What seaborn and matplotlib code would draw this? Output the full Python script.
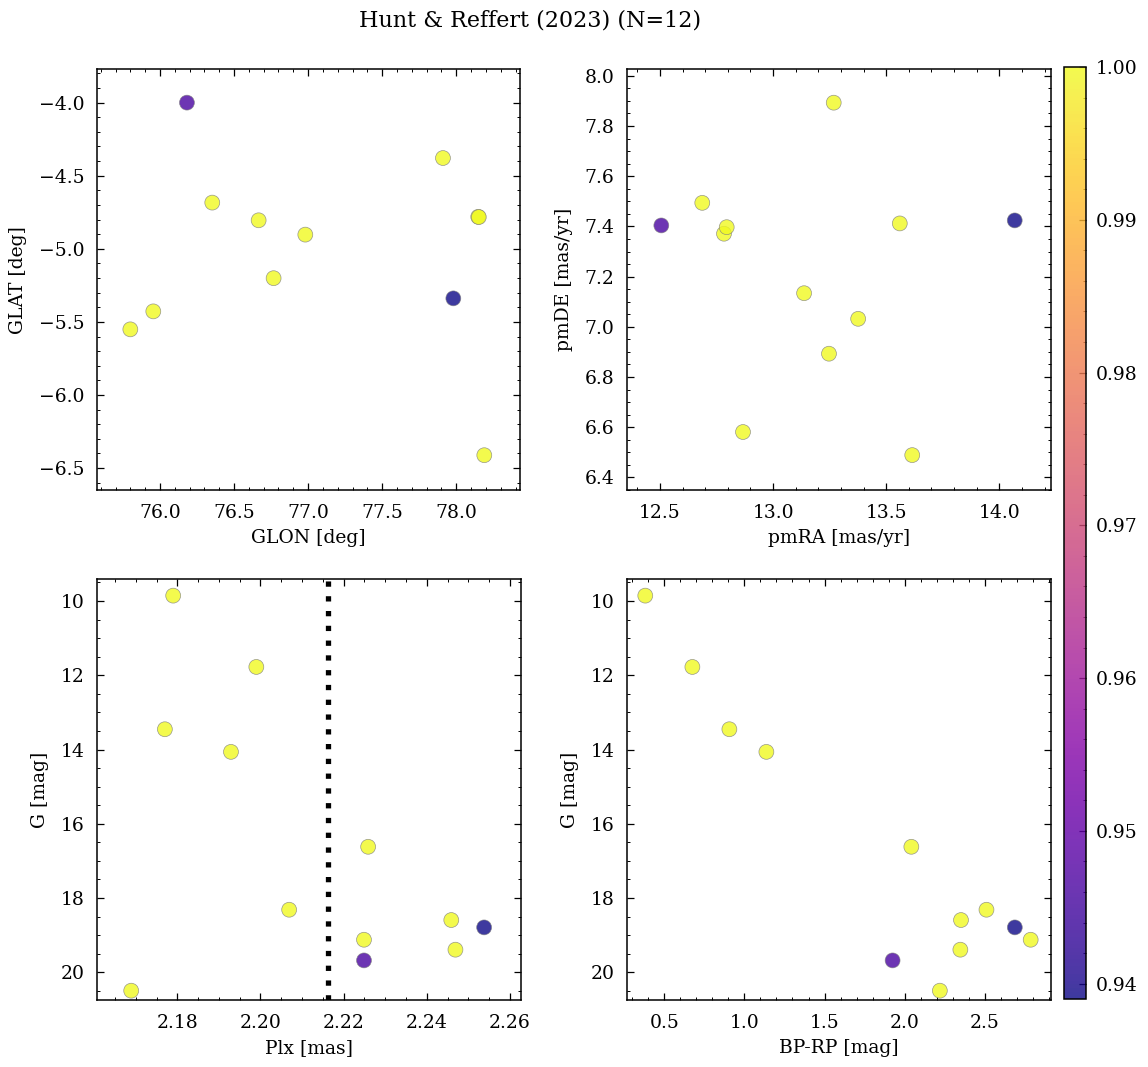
import numpy as np
import pandas as pd
import matplotlib
matplotlib.use("Agg")
import matplotlib.pyplot as plt
import seaborn as sns
from matplotlib.colors import Normalize
from matplotlib.cm import ScalarMappable
from matplotlib.ticker import AutoMinorLocator, MultipleLocator

# ---- data ----
glon = [76.182, 77.910, 76.353, 76.666, 76.981, 78.148, 78.152, 76.767, 77.980, 75.955, 75.800, 78.189]
glat = [-4.000, -4.379, -4.684, -4.805, -4.903, -4.781, -4.783, -5.201, -5.339, -5.428, -5.551, -6.412]
prob_pos = [0.9463, 1.0, 1.0, 1.0, 1.0, 1.0, 1.0, 1.0, 0.939, 1.0, 1.0, 1.0]

pmra = [12.506, 12.687, 12.783, 12.795, 13.268, 13.137, 13.376, 13.247, 12.867, 13.560, 13.615, 14.068]
pmde = [7.404, 7.494, 7.371, 7.397, 7.893, 7.134, 7.032, 6.893, 6.581, 7.412, 6.489, 7.424]
prob_pm = [0.9463, 1.0, 1.0, 1.0, 1.0, 1.0, 1.0, 1.0, 1.0, 1.0, 1.0, 0.939]

plx = [2.2249, 2.1790, 2.1990, 2.1770, 2.1929, 2.2069, 2.1689, 2.2259, 2.2249, 2.2459, 2.2469, 2.2538]
gmag = [19.679, 9.856, 11.776, 13.454, 14.063, 18.314, 20.494, 16.619, 19.122, 18.592, 19.390, 18.790]
bprp = [1.925, 0.381, 0.675, 0.906, 1.137, 2.511, 2.220, 2.042, 2.787, 2.352, 2.348, 2.688]
prob_ph = [0.9463, 1.0, 1.0, 1.0, 1.0, 1.0, 1.0, 1.0, 1.0, 1.0, 1.0, 0.939]

plx_ref = 2.2163
cbar_ticks = [0.94, 0.95, 0.96, 0.97, 0.98, 0.99, 1.00]
title = "Hunt & Reffert (2023) (N=12)"

df_pos = pd.DataFrame({"GLON": glon, "GLAT": glat, "p": prob_pos})
df_pm = pd.DataFrame({"pmRA": pmra, "pmDE": pmde, "p": prob_pm})
df_ph = pd.DataFrame({"Plx": plx, "G": gmag, "BPRP": bprp, "p": prob_ph})

vmin, vmax = 0.939, 1.0
cmap = "plasma"
FS = 13.5

sns.set_theme(style="white")
plt.rcParams["font.family"] = ["DejaVu Serif"]
plt.rcParams["mathtext.fontset"] = "dejavuserif"
plt.rcParams.update({
    "text.color": "black", "axes.labelcolor": "black",
    "axes.unicode_minus": True,
    "xtick.direction": "in", "ytick.direction": "in",
    "xtick.bottom": True, "ytick.left": True,
    "xtick.top": True, "ytick.right": True,
    "xtick.major.size": 5, "ytick.major.size": 5,
    "xtick.minor.size": 2.4, "ytick.minor.size": 2.4,
    "xtick.major.width": 0.9, "ytick.major.width": 0.9,
    "xtick.minor.width": 0.7, "ytick.minor.width": 0.7,
    "xtick.major.pad": 10, "ytick.major.pad": 9,
    "xtick.minor.visible": True, "ytick.minor.visible": True,
    "axes.linewidth": 1.1, "axes.edgecolor": "black",
    "xtick.color": "black", "ytick.color": "black",
    "xtick.labelsize": FS, "ytick.labelsize": FS,
    "axes.labelsize": FS,
})

W, H = 1148, 1067
fig = plt.figure(figsize=(W / 100, H / 100), dpi=100)

def px_axes(l, t, r, b):
    return fig.add_axes([l / W, 1 - b / H, (r - l) / W, (b - t) / H])

ax1 = px_axes(96.7, 69.3, 520.0, 490.0)
ax2 = px_axes(626.7, 69.3, 1050.7, 490.0)
ax3 = px_axes(96.7, 579.3, 520.7, 1000.0)
ax4 = px_axes(626.7, 579.3, 1050.7, 1000.0)
cax = px_axes(1064.3, 67.0, 1086.0, 999.0)

kw = dict(hue="p", palette=cmap, hue_norm=(vmin, vmax), legend=False,
          s=115, alpha=0.8, edgecolor="gray", linewidth=0.5)

sns.scatterplot(data=df_pos, x="GLON", y="GLAT", ax=ax1, **kw)
ax1.set_xlim(75.573, 78.43)
ax1.set_ylim(-6.65, -3.772)
ax1.set_xlabel("GLON [deg]")
ax1.set_ylabel("GLAT [deg]")

sns.scatterplot(data=df_pm, x="pmRA", y="pmDE", ax=ax2, **kw)
ax2.set_xlim(12.353, 14.227)
ax2.set_ylim(6.35, 8.026)
ax2.xaxis.set_major_locator(MultipleLocator(0.5))
ax2.set_xlabel("pmRA [mas/yr]")
ax2.set_ylabel("pmDE [mas/yr]")

sns.scatterplot(data=df_ph, x="Plx", y="G", ax=ax3, **kw)
ax3.axvline(plx_ref, color="black", linestyle=(0, (1, 1.8)), linewidth=3.8)
ax3.set_xlim(2.1606, 2.2626)
ax3.set_ylim(20.745, 9.416)
ax3.set_xlabel("Plx [mas]")
ax3.set_ylabel("G [mag]")

sns.scatterplot(data=df_ph, x="BPRP", y="G", ax=ax4, **kw)
ax4.set_xlim(0.265, 2.912)
ax4.set_ylim(20.745, 9.416)
ax4.set_xlabel("BP-RP [mag]")
ax4.set_ylabel("G [mag]")

for ax in (ax1, ax2, ax3, ax4):
    ax.xaxis.set_minor_locator(AutoMinorLocator())
    ax.yaxis.set_minor_locator(AutoMinorLocator())
    ax.tick_params(which="both", direction="in", top=True, right=True,
                   bottom=True, left=True)
    ax.xaxis.labelpad = 5
    ax.yaxis.labelpad = 8
    for sp in ax.spines.values():
        sp.set_color("black")

sm = ScalarMappable(norm=Normalize(vmin, vmax), cmap=cmap)
cb = fig.colorbar(sm, cax=cax, alpha=0.8)
cb.set_ticks(cbar_ticks)
cb.ax.yaxis.set_minor_locator(AutoMinorLocator(5))
cb.ax.tick_params(which="both", direction="in", labelsize=FS, right=True,
                  left=False, top=False, bottom=False)
cb.ax.tick_params(which="major", length=5, pad=7)
cb.ax.tick_params(which="minor", length=2.4)
cb.outline.set_edgecolor("black")
cb.outline.set_linewidth(1.1)

fig.text(530 / W, 1 - 20 / H, title, ha="center", va="center", fontsize=16)

fig.savefig("out.png", dpi=100)
